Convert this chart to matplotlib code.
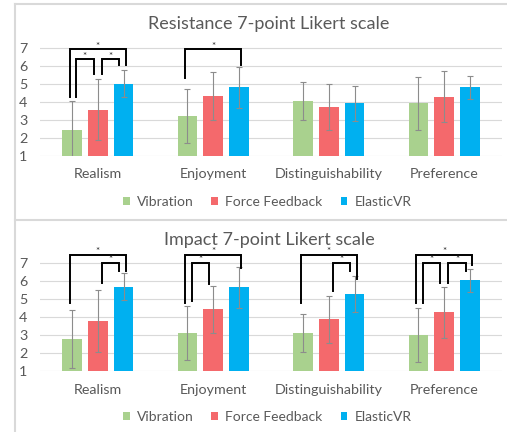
import numpy as np
import matplotlib
matplotlib.use("Agg")
import matplotlib.pyplot as plt
from matplotlib.patches import Patch
from matplotlib.lines import Line2D

plt.rcParams['font.family'] = ['Lato', 'DejaVu Sans']

# 数据
categories = ["Realism", "Enjoyment", "Distinguishability", "Preference"]
conditions = ["Vibration", "Force Feedback", "ElasticVR"]
colors = ["#A9D18E", "#F4696C", "#00B0F0"]

resist_mean = {
    "Vibration": [2.45, 3.20, 4.05, 3.92],
    "Force Feedback": [3.58, 4.33, 3.73, 4.30],
    "ElasticVR": [5.02, 4.83, 3.92, 4.83],
}
resist_err = {
    "Vibration": [1.60, 1.50, 1.05, 1.47],
    "Force Feedback": [1.71, 1.31, 1.28, 1.42],
    "ElasticVR": [0.76, 1.14, 0.98, 0.64],
}
impact_mean = {
    "Vibration": [2.78, 3.12, 3.12, 3.00],
    "Force Feedback": [3.78, 4.43, 3.87, 4.25],
    "ElasticVR": [5.68, 5.65, 5.28, 6.02],
}
impact_err = {
    "Vibration": [1.61, 1.50, 1.06, 1.50],
    "Force Feedback": [1.72, 1.31, 1.28, 1.40],
    "ElasticVR": [0.74, 1.14, 0.99, 0.63],
}

# 显著性括号: (类别, 条a, 条b, 高度, a腿底, b腿底)
resist_brackets = [
    (0, 0, 2, 6.93, 4.26, 6.06),
    (0, 0, 1, 6.37, 4.26, 5.54),
    (0, 1, 2, 6.37, 5.54, 6.06),
    (1, 0, 2, 6.93, 5.31, 6.06),
]
impact_brackets = [
    (0, 0, 2, 7.45, 4.76, 6.54),
    (0, 1, 2, 6.98, 5.90, 6.54),
    (1, 0, 2, 7.45, 4.76, 6.73),
    (1, 0, 1, 6.98, 4.89, 5.80),
    (2, 0, 2, 7.45, 4.76, 6.08),
    (2, 1, 2, 6.98, 5.44, 6.54),
    (3, 0, 2, 7.45, 4.76, 6.86),
    (3, 0, 1, 6.98, 4.76, 5.90),
    (3, 1, 2, 6.98, 5.90, 6.54),
]

TEXT = "#595959"
W, H = 507, 432
fig = plt.figure(figsize=(W / 100, H / 100), dpi=100)

# 面板边框
for xs, ys in [((15, W), (4, 4)), ((15, W), (220, 220)), ((15, 15), (4, H))]:
    fig.add_artist(Line2D([x / W for x in xs], [1 - y / H for y in ys],
                          color="#d9d9d9", lw=1.5))


def draw_panel(y1_px, y7_px, title, title_y, means, errs, brackets):
    unit = (y1_px - y7_px) / 6
    top = 7.8
    ax = fig.add_axes([40 / W, 1 - y1_px / H, 462 / W, (top - 1) * unit / H])
    x = np.arange(len(categories))
    width = 0.173
    step = 0.223
    for k, cond in enumerate(conditions):
        ax.bar(x + (k - 1) * step, np.array(means[cond]) - 1, width, bottom=1,
               color=colors[k], zorder=2)
        ax.errorbar(x + (k - 1) * step, means[cond], yerr=errs[cond], fmt='none',
                    ecolor="#8c8c8c", elinewidth=0.8, capsize=2, capthick=0.8, zorder=3)
    for cat, a, b, lvl, ya, yb in brackets:
        xa = cat + (a - 1) * step
        xb = cat + (b - 1) * step
        if b - a == 2:
            xa -= 0.02
            xb += 0.02
        else:
            xa += 0.035
            xb -= 0.035
        ax.plot([xa, xa, xb, xb], [ya, lvl, lvl, yb], color="black", lw=1.4,
                solid_joinstyle='miter', zorder=4)
        # 星号：基线贴近括号横线
        ax.text((xa + xb) / 2, lvl + 0.04, "*", ha='center', va='baseline',
                fontsize=7, color="#262626", zorder=5)
    ax.set_xlim(-0.5, len(categories) - 0.5)
    ax.set_ylim(1, top)
    ax.set_yticks(range(1, 8))
    for v in range(1, 8):
        ax.axhline(v, color="#d9d9d9", lw=0.8, zorder=1)
    ax.set_xticks(x)
    ax.set_xticklabels(categories)
    ax.tick_params(length=0, colors=TEXT, labelsize=10.3)
    ax.tick_params(axis='x', pad=9)
    ax.tick_params(axis='y', pad=9)
    ax.patch.set_alpha(0)
    for s in ax.spines.values():
        s.set_visible(False)
    fig.text(269 / W, 1 - title_y / H, title, ha='center', va='center',
             fontsize=13, color=TEXT)
    return ax


draw_panel(156, 48, "Resistance 7-point Likert scale", 24,
           resist_mean, resist_err, resist_brackets)
draw_panel(371.3, 262.7, "Impact 7-point Likert scale", 240,
           impact_mean, impact_err, impact_brackets)

handles = [Patch(facecolor=c) for c in colors]
for ly in (202, 417):
    fig.legend(handles, conditions, loc='center', bbox_to_anchor=(267 / W, 1 - ly / H),
               ncol=3, frameon=False, fontsize=10, labelcolor=TEXT,
               handlelength=0.5, handleheight=0.5, handletextpad=0.5,
               columnspacing=1.3, borderpad=0)

fig.savefig("out.png", dpi=100, facecolor="white")
